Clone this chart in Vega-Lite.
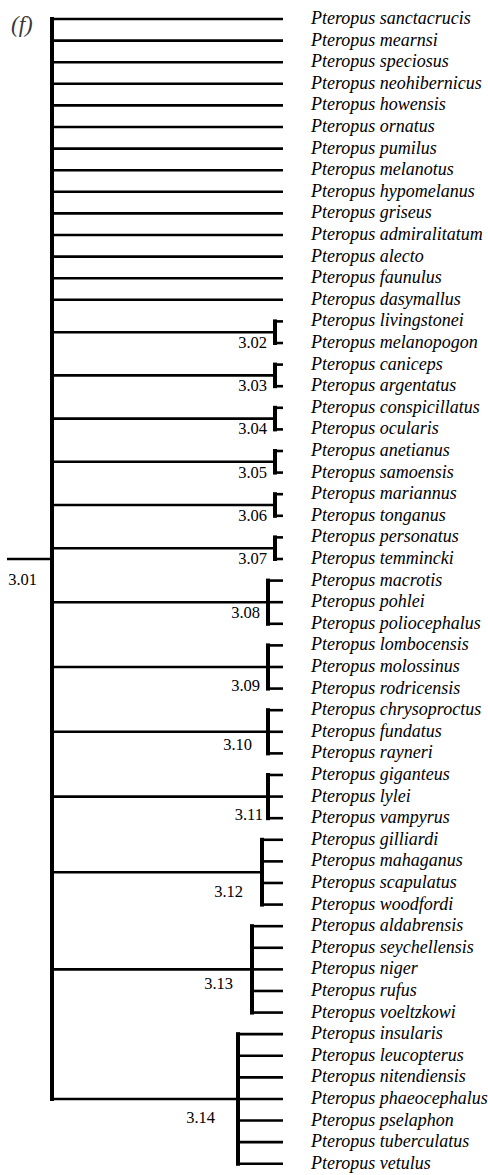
{
  "$schema": "https://vega.github.io/schema/vega-lite/v6.json",
  "width": 488,
  "height": 1175,
  "autosize": "none",
  "padding": 0,
  "background": "white",
  "config": {"view": {"stroke": null}},
  "datasets": {
    "branches": [
      {"x1": 7, "x2": 52, "y1": 25, "y2": 25},
      {"x1": 52, "x2": 52, "y1": 0, "y2": 50},
      {"x1": 52, "x2": 283, "y1": 0, "y2": 0},
      {"x1": 52, "x2": 283, "y1": 1, "y2": 1},
      {"x1": 52, "x2": 283, "y1": 2, "y2": 2},
      {"x1": 52, "x2": 283, "y1": 3, "y2": 3},
      {"x1": 52, "x2": 283, "y1": 4, "y2": 4},
      {"x1": 52, "x2": 283, "y1": 5, "y2": 5},
      {"x1": 52, "x2": 283, "y1": 6, "y2": 6},
      {"x1": 52, "x2": 283, "y1": 7, "y2": 7},
      {"x1": 52, "x2": 283, "y1": 8, "y2": 8},
      {"x1": 52, "x2": 283, "y1": 9, "y2": 9},
      {"x1": 52, "x2": 283, "y1": 10, "y2": 10},
      {"x1": 52, "x2": 283, "y1": 11, "y2": 11},
      {"x1": 52, "x2": 283, "y1": 12, "y2": 12},
      {"x1": 52, "x2": 283, "y1": 13, "y2": 13},

      {"x1": 52, "x2": 275, "y1": 14.5, "y2": 14.5},
      {"x1": 275, "x2": 275, "y1": 14, "y2": 15},
      {"x1": 275, "x2": 283, "y1": 14, "y2": 14},
      {"x1": 275, "x2": 283, "y1": 15, "y2": 15},

      {"x1": 52, "x2": 275, "y1": 16.5, "y2": 16.5},
      {"x1": 275, "x2": 275, "y1": 16, "y2": 17},
      {"x1": 275, "x2": 283, "y1": 16, "y2": 16},
      {"x1": 275, "x2": 283, "y1": 17, "y2": 17},

      {"x1": 52, "x2": 275, "y1": 18.5, "y2": 18.5},
      {"x1": 275, "x2": 275, "y1": 18, "y2": 19},
      {"x1": 275, "x2": 283, "y1": 18, "y2": 18},
      {"x1": 275, "x2": 283, "y1": 19, "y2": 19},

      {"x1": 52, "x2": 275, "y1": 20.5, "y2": 20.5},
      {"x1": 275, "x2": 275, "y1": 20, "y2": 21},
      {"x1": 275, "x2": 283, "y1": 20, "y2": 20},
      {"x1": 275, "x2": 283, "y1": 21, "y2": 21},

      {"x1": 52, "x2": 275, "y1": 22.5, "y2": 22.5},
      {"x1": 275, "x2": 275, "y1": 22, "y2": 23},
      {"x1": 275, "x2": 283, "y1": 22, "y2": 22},
      {"x1": 275, "x2": 283, "y1": 23, "y2": 23},

      {"x1": 52, "x2": 275, "y1": 24.5, "y2": 24.5},
      {"x1": 275, "x2": 275, "y1": 24, "y2": 25},
      {"x1": 275, "x2": 283, "y1": 24, "y2": 24},
      {"x1": 275, "x2": 283, "y1": 25, "y2": 25},

      {"x1": 52, "x2": 268, "y1": 27, "y2": 27},
      {"x1": 268, "x2": 268, "y1": 26, "y2": 28},
      {"x1": 268, "x2": 283, "y1": 26, "y2": 26},
      {"x1": 268, "x2": 283, "y1": 27, "y2": 27},
      {"x1": 268, "x2": 283, "y1": 28, "y2": 28},

      {"x1": 52, "x2": 268, "y1": 30, "y2": 30},
      {"x1": 268, "x2": 268, "y1": 29, "y2": 31},
      {"x1": 268, "x2": 283, "y1": 29, "y2": 29},
      {"x1": 268, "x2": 283, "y1": 30, "y2": 30},
      {"x1": 268, "x2": 283, "y1": 31, "y2": 31},

      {"x1": 52, "x2": 268, "y1": 33, "y2": 33},
      {"x1": 268, "x2": 268, "y1": 32, "y2": 34},
      {"x1": 268, "x2": 283, "y1": 32, "y2": 32},
      {"x1": 268, "x2": 283, "y1": 33, "y2": 33},
      {"x1": 268, "x2": 283, "y1": 34, "y2": 34},

      {"x1": 52, "x2": 268, "y1": 36, "y2": 36},
      {"x1": 268, "x2": 268, "y1": 35, "y2": 37},
      {"x1": 268, "x2": 283, "y1": 35, "y2": 35},
      {"x1": 268, "x2": 283, "y1": 36, "y2": 36},
      {"x1": 268, "x2": 283, "y1": 37, "y2": 37},

      {"x1": 52, "x2": 262, "y1": 39.5, "y2": 39.5},
      {"x1": 262, "x2": 262, "y1": 38, "y2": 41},
      {"x1": 262, "x2": 283, "y1": 38, "y2": 38},
      {"x1": 262, "x2": 283, "y1": 39, "y2": 39},
      {"x1": 262, "x2": 283, "y1": 40, "y2": 40},
      {"x1": 262, "x2": 283, "y1": 41, "y2": 41},

      {"x1": 52, "x2": 252, "y1": 44, "y2": 44},
      {"x1": 252, "x2": 252, "y1": 42, "y2": 46},
      {"x1": 252, "x2": 283, "y1": 42, "y2": 42},
      {"x1": 252, "x2": 283, "y1": 43, "y2": 43},
      {"x1": 252, "x2": 283, "y1": 44, "y2": 44},
      {"x1": 252, "x2": 283, "y1": 45, "y2": 45},
      {"x1": 252, "x2": 283, "y1": 46, "y2": 46},

      {"x1": 52, "x2": 238, "y1": 50, "y2": 50},
      {"x1": 238, "x2": 238, "y1": 47, "y2": 53},
      {"x1": 238, "x2": 283, "y1": 47, "y2": 47},
      {"x1": 238, "x2": 283, "y1": 48, "y2": 48},
      {"x1": 238, "x2": 283, "y1": 49, "y2": 49},
      {"x1": 238, "x2": 283, "y1": 50, "y2": 50},
      {"x1": 238, "x2": 283, "y1": 51, "y2": 51},
      {"x1": 238, "x2": 283, "y1": 52, "y2": 52},
      {"x1": 238, "x2": 283, "y1": 53, "y2": 53}
    ],
    "leaves": [
      {"name": "Pteropus sanctacrucis", "y": 0},
      {"name": "Pteropus mearnsi", "y": 1},
      {"name": "Pteropus speciosus", "y": 2},
      {"name": "Pteropus neohibernicus", "y": 3},
      {"name": "Pteropus howensis", "y": 4},
      {"name": "Pteropus ornatus", "y": 5},
      {"name": "Pteropus pumilus", "y": 6},
      {"name": "Pteropus melanotus", "y": 7},
      {"name": "Pteropus hypomelanus", "y": 8},
      {"name": "Pteropus griseus", "y": 9},
      {"name": "Pteropus admiralitatum", "y": 10},
      {"name": "Pteropus alecto", "y": 11},
      {"name": "Pteropus faunulus", "y": 12},
      {"name": "Pteropus dasymallus", "y": 13},
      {"name": "Pteropus livingstonei", "y": 14},
      {"name": "Pteropus melanopogon", "y": 15},
      {"name": "Pteropus caniceps", "y": 16},
      {"name": "Pteropus argentatus", "y": 17},
      {"name": "Pteropus conspicillatus", "y": 18},
      {"name": "Pteropus ocularis", "y": 19},
      {"name": "Pteropus anetianus", "y": 20},
      {"name": "Pteropus samoensis", "y": 21},
      {"name": "Pteropus mariannus", "y": 22},
      {"name": "Pteropus tonganus", "y": 23},
      {"name": "Pteropus personatus", "y": 24},
      {"name": "Pteropus temmincki", "y": 25},
      {"name": "Pteropus macrotis", "y": 26},
      {"name": "Pteropus pohlei", "y": 27},
      {"name": "Pteropus poliocephalus", "y": 28},
      {"name": "Pteropus lombocensis", "y": 29},
      {"name": "Pteropus molossinus", "y": 30},
      {"name": "Pteropus rodricensis", "y": 31},
      {"name": "Pteropus chrysoproctus", "y": 32},
      {"name": "Pteropus fundatus", "y": 33},
      {"name": "Pteropus rayneri", "y": 34},
      {"name": "Pteropus giganteus", "y": 35},
      {"name": "Pteropus lylei", "y": 36},
      {"name": "Pteropus vampyrus", "y": 37},
      {"name": "Pteropus gilliardi", "y": 38},
      {"name": "Pteropus mahaganus", "y": 39},
      {"name": "Pteropus scapulatus", "y": 40},
      {"name": "Pteropus woodfordi", "y": 41},
      {"name": "Pteropus aldabrensis", "y": 42},
      {"name": "Pteropus seychellensis", "y": 43},
      {"name": "Pteropus niger", "y": 44},
      {"name": "Pteropus rufus", "y": 45},
      {"name": "Pteropus voeltzkowi", "y": 46},
      {"name": "Pteropus insularis", "y": 47},
      {"name": "Pteropus leucopterus", "y": 48},
      {"name": "Pteropus nitendiensis", "y": 49},
      {"name": "Pteropus phaeocephalus", "y": 50},
      {"name": "Pteropus pselaphon", "y": 51},
      {"name": "Pteropus tuberculatus", "y": 52},
      {"name": "Pteropus vetulus", "y": 53}
    ],
    "nodes": [
      {"label": "3.01", "x": 37, "y": 25.97},
      {"label": "3.02", "x": 267, "y": 15.0},
      {"label": "3.03", "x": 267, "y": 17.0},
      {"label": "3.04", "x": 267, "y": 19.0},
      {"label": "3.05", "x": 267, "y": 21.0},
      {"label": "3.06", "x": 267, "y": 23.0},
      {"label": "3.07", "x": 267, "y": 25.0},
      {"label": "3.08", "x": 260, "y": 27.5},
      {"label": "3.09", "x": 260, "y": 30.9},
      {"label": "3.10", "x": 252, "y": 33.6},
      {"label": "3.11", "x": 263, "y": 36.85},
      {"label": "3.12", "x": 243, "y": 40.4},
      {"label": "3.13", "x": 233, "y": 44.7},
      {"label": "3.14", "x": 215, "y": 50.9}
    ],
    "panel": [{"label": "(f)", "x": 11, "y": 0.3}]
  },
  "layer": [
    {
      "data": {"name": "branches"},
      "transform": [{"filter": "datum.y1 == datum.y2"}],
      "mark": {"type": "rule", "color": "black", "strokeWidth": 2.6},
      "encoding": {
        "x": {"field": "x1", "type": "quantitative", "scale": {"domain": [0, 488]}, "axis": null},
        "x2": {"field": "x2"},
        "y": {"field": "y1", "type": "quantitative", "scale": {"domain": [-0.88, 53.52], "reverse": true}, "axis": null}
      }
    },
    {
      "data": {"name": "branches"},
      "transform": [{"filter": "datum.x1 == datum.x2"}],
      "mark": {"type": "rule", "color": "black", "strokeWidth": 4, "strokeCap": "square"},
      "encoding": {
        "x": {"field": "x1", "type": "quantitative", "scale": {"domain": [0, 488]}, "axis": null},
        "y": {"field": "y1", "type": "quantitative", "scale": {"domain": [-0.88, 53.52], "reverse": true}, "axis": null},
        "y2": {"field": "y2"}
      }
    },
    {
      "data": {"name": "leaves"},
      "mark": {"type": "text", "align": "left", "baseline": "middle", "font": "Liberation Serif", "fontStyle": "italic", "fontSize": 18, "color": "black"},
      "encoding": {
        "x": {"datum": 311, "type": "quantitative", "scale": {"domain": [0, 488]}, "axis": null},
        "y": {"field": "y", "type": "quantitative", "scale": {"domain": [-0.88, 53.52], "reverse": true}, "axis": null},
        "text": {"field": "name"}
      }
    },
    {
      "data": {"name": "nodes"},
      "mark": {"type": "text", "align": "right", "baseline": "middle", "font": "Liberation Serif", "fontSize": 16.5, "color": "black"},
      "encoding": {
        "x": {"field": "x", "type": "quantitative", "scale": {"domain": [0, 488]}, "axis": null},
        "y": {"field": "y", "type": "quantitative", "scale": {"domain": [-0.88, 53.52], "reverse": true}, "axis": null},
        "text": {"field": "label"}
      }
    },
    {
      "data": {"name": "panel"},
      "mark": {"type": "text", "align": "left", "baseline": "middle", "font": "Liberation Serif", "fontStyle": "italic", "fontSize": 23, "color": "#3a3a3a"},
      "encoding": {
        "x": {"field": "x", "type": "quantitative", "scale": {"domain": [0, 488]}, "axis": null},
        "y": {"field": "y", "type": "quantitative", "scale": {"domain": [-0.88, 53.52], "reverse": true}, "axis": null},
        "text": {"field": "label"}
      }
    }
  ]
}
